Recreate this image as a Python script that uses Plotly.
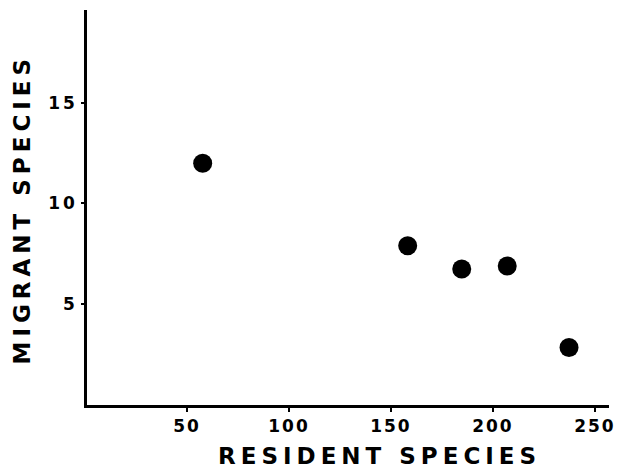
import plotly.graph_objects as go

resident_species = [57.7, 158.2, 184.7, 207.0, 237.3]
migrant_species = [12.0, 7.9, 6.75, 6.9, 2.85]
x_ticks = [50, 100, 150, 200, 250]
y_ticks = [5, 10, 15]

FONT = "DejaVu Sans"

fig = go.Figure()
fig.add_trace(go.Scatter(
    x=resident_species, y=migrant_species, mode="markers",
    marker=dict(size=19, color="black"),
    showlegend=False, hoverinfo="skip",
))

L, R, T, B = 87, 609, 10, 405
W, H = 623, 472

fig.update_layout(
    width=W, height=H,
    margin=dict(l=L, r=W - R, t=T, b=H - B),
    paper_bgcolor="white", plot_bgcolor="white",
    font=dict(family=FONT, color="black"),
    xaxis=dict(
        range=[0.98, 256.9], tickvals=x_ticks, ticktext=[str(v) for v in x_ticks],
        showgrid=False, zeroline=False,
        showline=True, linecolor="black", linewidth=2.5,
        ticks="outside", ticklen=4, tickwidth=2, tickcolor="black",
        tickfont=dict(family=FONT, size=17, weight="bold"),
    ),
    yaxis=dict(
        range=[0, 19.6], tickvals=y_ticks, ticktext=[str(v) for v in y_ticks],
        showgrid=False, zeroline=False,
        showline=True, linecolor="black", linewidth=2.5,
        ticks="outside", ticklen=3, tickwidth=2, tickcolor="black",
        tickfont=dict(family=FONT, size=17, weight="bold"),
    ),
    annotations=[
        dict(text="RESIDENT SPECIES", xref="paper", yref="paper",
             x=(379 - L) / (R - L), y=-(456 - B) / (B - T),
             xanchor="center", yanchor="middle", showarrow=False,
             font=dict(family=FONT, size=23, weight="bold")),
        dict(text="MIGRANT SPECIES", xref="paper", yref="paper",
             x=-(L - 22) / (R - L), y=(B - 209) / (B - T),
             xanchor="center", yanchor="middle", showarrow=False, textangle=-90,
             font=dict(family=FONT, size=23, weight="bold")),
    ],
)

post = """
document.body.style.margin = '0';
document.querySelectorAll('.xtick text').forEach(function(t){ t.style.letterSpacing = '2px'; });
document.querySelectorAll('.ytick text').forEach(function(t){ t.style.letterSpacing = '3px'; });
document.querySelectorAll('.annotation-text').forEach(function(t){ t.style.letterSpacing = '5px'; });
"""

fig.write_html("out.html", post_script=post, config={"displayModeBar": False})
